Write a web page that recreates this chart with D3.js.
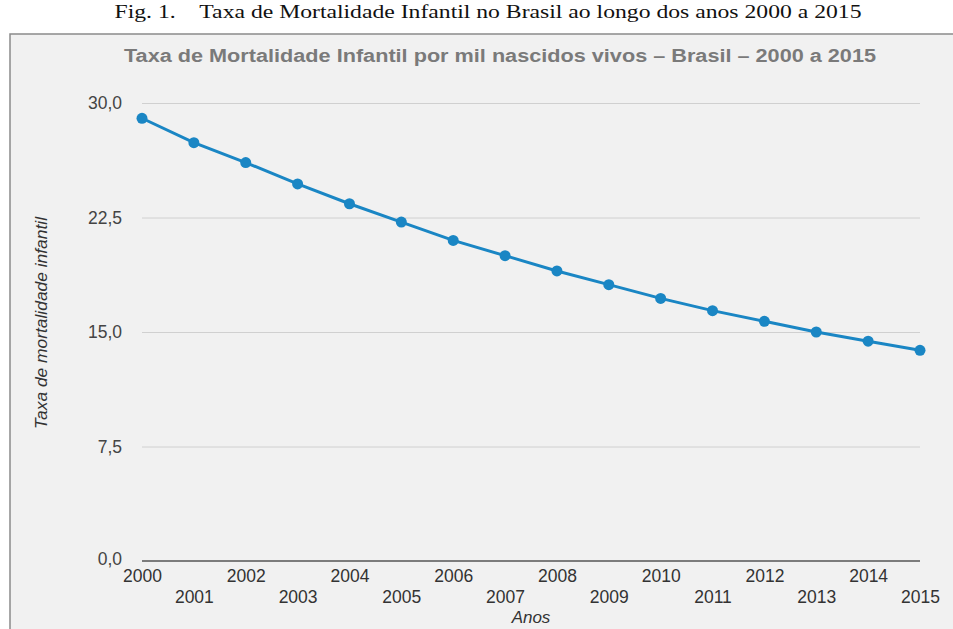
<!DOCTYPE html>
<html>
<head>
<meta charset="utf-8">
<title>Taxa de Mortalidade Infantil</title>
<script src="https://d3js.org/d3.v7.min.js"></script>
<style>
body { margin: 0; background: #fff; }
svg text { font-family: Arial, "Liberation Sans", sans-serif; }
.grid line { stroke: #d0d0d0; stroke-width: 1px; }
.grid path { display: none; }
.axis text { font-size: 17.5px; fill: #444; }
.axis path, .axis line { display: none; }
</style>
</head>
<body>
<div id="chart"></div>
<script>
// dados
var anos = [2000, 2001, 2002, 2003, 2004, 2005, 2006, 2007, 2008, 2009, 2010, 2011, 2012, 2013, 2014, 2015];
var taxa = [29.0, 27.4, 26.1, 24.7, 23.4, 22.2, 21.0, 20.0, 19.0, 18.1, 17.2, 16.4, 15.7, 15.0, 14.4, 13.8];
var yTicks = [0, 7.5, 15, 22.5, 30];

var W = 953, H = 629;
var plot = { left: 142, right: 920, top: 103, bottom: 561 };

var svg = d3.select("#chart").append("svg")
  .attr("width", W)
  .attr("height", H);

// legenda da figura
svg.append("text")
  .attr("x", 488)
  .attr("y", 18)
  .attr("text-anchor", "middle")
  .style("font-family", "'Liberation Serif', 'Times New Roman', serif")
  .style("font-size", "19px")
  .style("fill", "#111")
  .attr("textLength", 747)
  .attr("lengthAdjust", "spacingAndGlyphs")
  .text("Fig. 1.\u2003Taxa de Mortalidade Infantil no Brasil ao longo dos anos 2000 a 2015");

// moldura do grafico
svg.append("rect")
  .attr("x", 10)
  .attr("y", 34)
  .attr("width", W)
  .attr("height", H)
  .style("fill", "#f1f1f1")
  .style("stroke", "#8a8a8a")
  .style("stroke-width", 1.5);

svg.append("text")
  .attr("x", 500)
  .attr("y", 62)
  .attr("text-anchor", "middle")
  .style("font-size", "18px")
  .style("font-weight", "bold")
  .style("fill", "#7a7a7a")
  .attr("textLength", 752)
  .attr("lengthAdjust", "spacingAndGlyphs")
  .text("Taxa de Mortalidade Infantil por mil nascidos vivos \u2013 Brasil \u2013 2000 a 2015");

var x = d3.scalePoint()
  .domain(anos)
  .range([plot.left, plot.right]);

var y = d3.scaleLinear()
  .domain([0, 30])
  .range([plot.bottom, plot.top]);

var fmt = function(d) { return d3.format(".1f")(d).replace(".", ","); };

// linhas de grade
svg.append("g")
  .attr("class", "grid")
  .attr("transform", "translate(" + plot.left + ",0)")
  .call(d3.axisLeft(y).tickValues(yTicks.filter(function(d) { return d > 0; }))
    .tickSize(-(plot.right - plot.left)).tickFormat(""));

svg.append("line")
  .attr("x1", plot.left)
  .attr("x2", plot.right)
  .attr("y1", y(0))
  .attr("y2", y(0))
  .style("stroke", "#555")
  .style("stroke-width", 1.5);

// eixo y
svg.append("g")
  .attr("class", "axis")
  .attr("transform", "translate(" + (plot.left - 20) + ",0)")
  .call(d3.axisLeft(y).tickValues(yTicks).tickSize(0).tickPadding(0).tickFormat(fmt))
  .selectAll("text")
    .attr("dy", function(d) { return d === 0 ? "0.2em" : "0.32em"; });

// eixo x em duas linhas
var xAxis = svg.append("g")
  .attr("class", "axis")
  .attr("transform", "translate(0," + plot.bottom + ")")
  .call(d3.axisBottom(x).tickSize(0).tickPadding(0).tickFormat(d3.format("d")));

xAxis.selectAll("text")
  .attr("y", function(d, i) { return i % 2 === 0 ? 21 : 42; })
  .attr("dy", "0")
  .style("fill", "#333");

svg.append("text")
  .attr("transform", "translate(47,323) rotate(-90)")
  .attr("text-anchor", "middle")
  .style("font-size", "16px")
  .style("font-style", "italic")
  .style("fill", "#333")
  .attr("textLength", 212)
  .attr("lengthAdjust", "spacingAndGlyphs")
  .text("Taxa de mortalidade infantil");

svg.append("text")
  .attr("x", 531)
  .attr("y", 623)
  .attr("text-anchor", "middle")
  .style("font-size", "17px")
  .style("font-style", "italic")
  .style("fill", "#333")
  .text("Anos");

// serie
var line = d3.line()
  .x(function(d, i) { return x(anos[i]); })
  .y(function(d) { return y(d); });

svg.append("path")
  .datum(taxa)
  .attr("d", line)
  .style("fill", "none")
  .style("stroke", "#1a86c4")
  .style("stroke-width", 3);

svg.selectAll("circle.ponto")
  .data(taxa)
  .enter().append("circle")
  .attr("class", "ponto")
  .attr("cx", function(d, i) { return x(anos[i]); })
  .attr("cy", function(d) { return y(d); })
  .attr("r", 5.5)
  .style("fill", "#1a86c4");
</script>
</body>
</html>
